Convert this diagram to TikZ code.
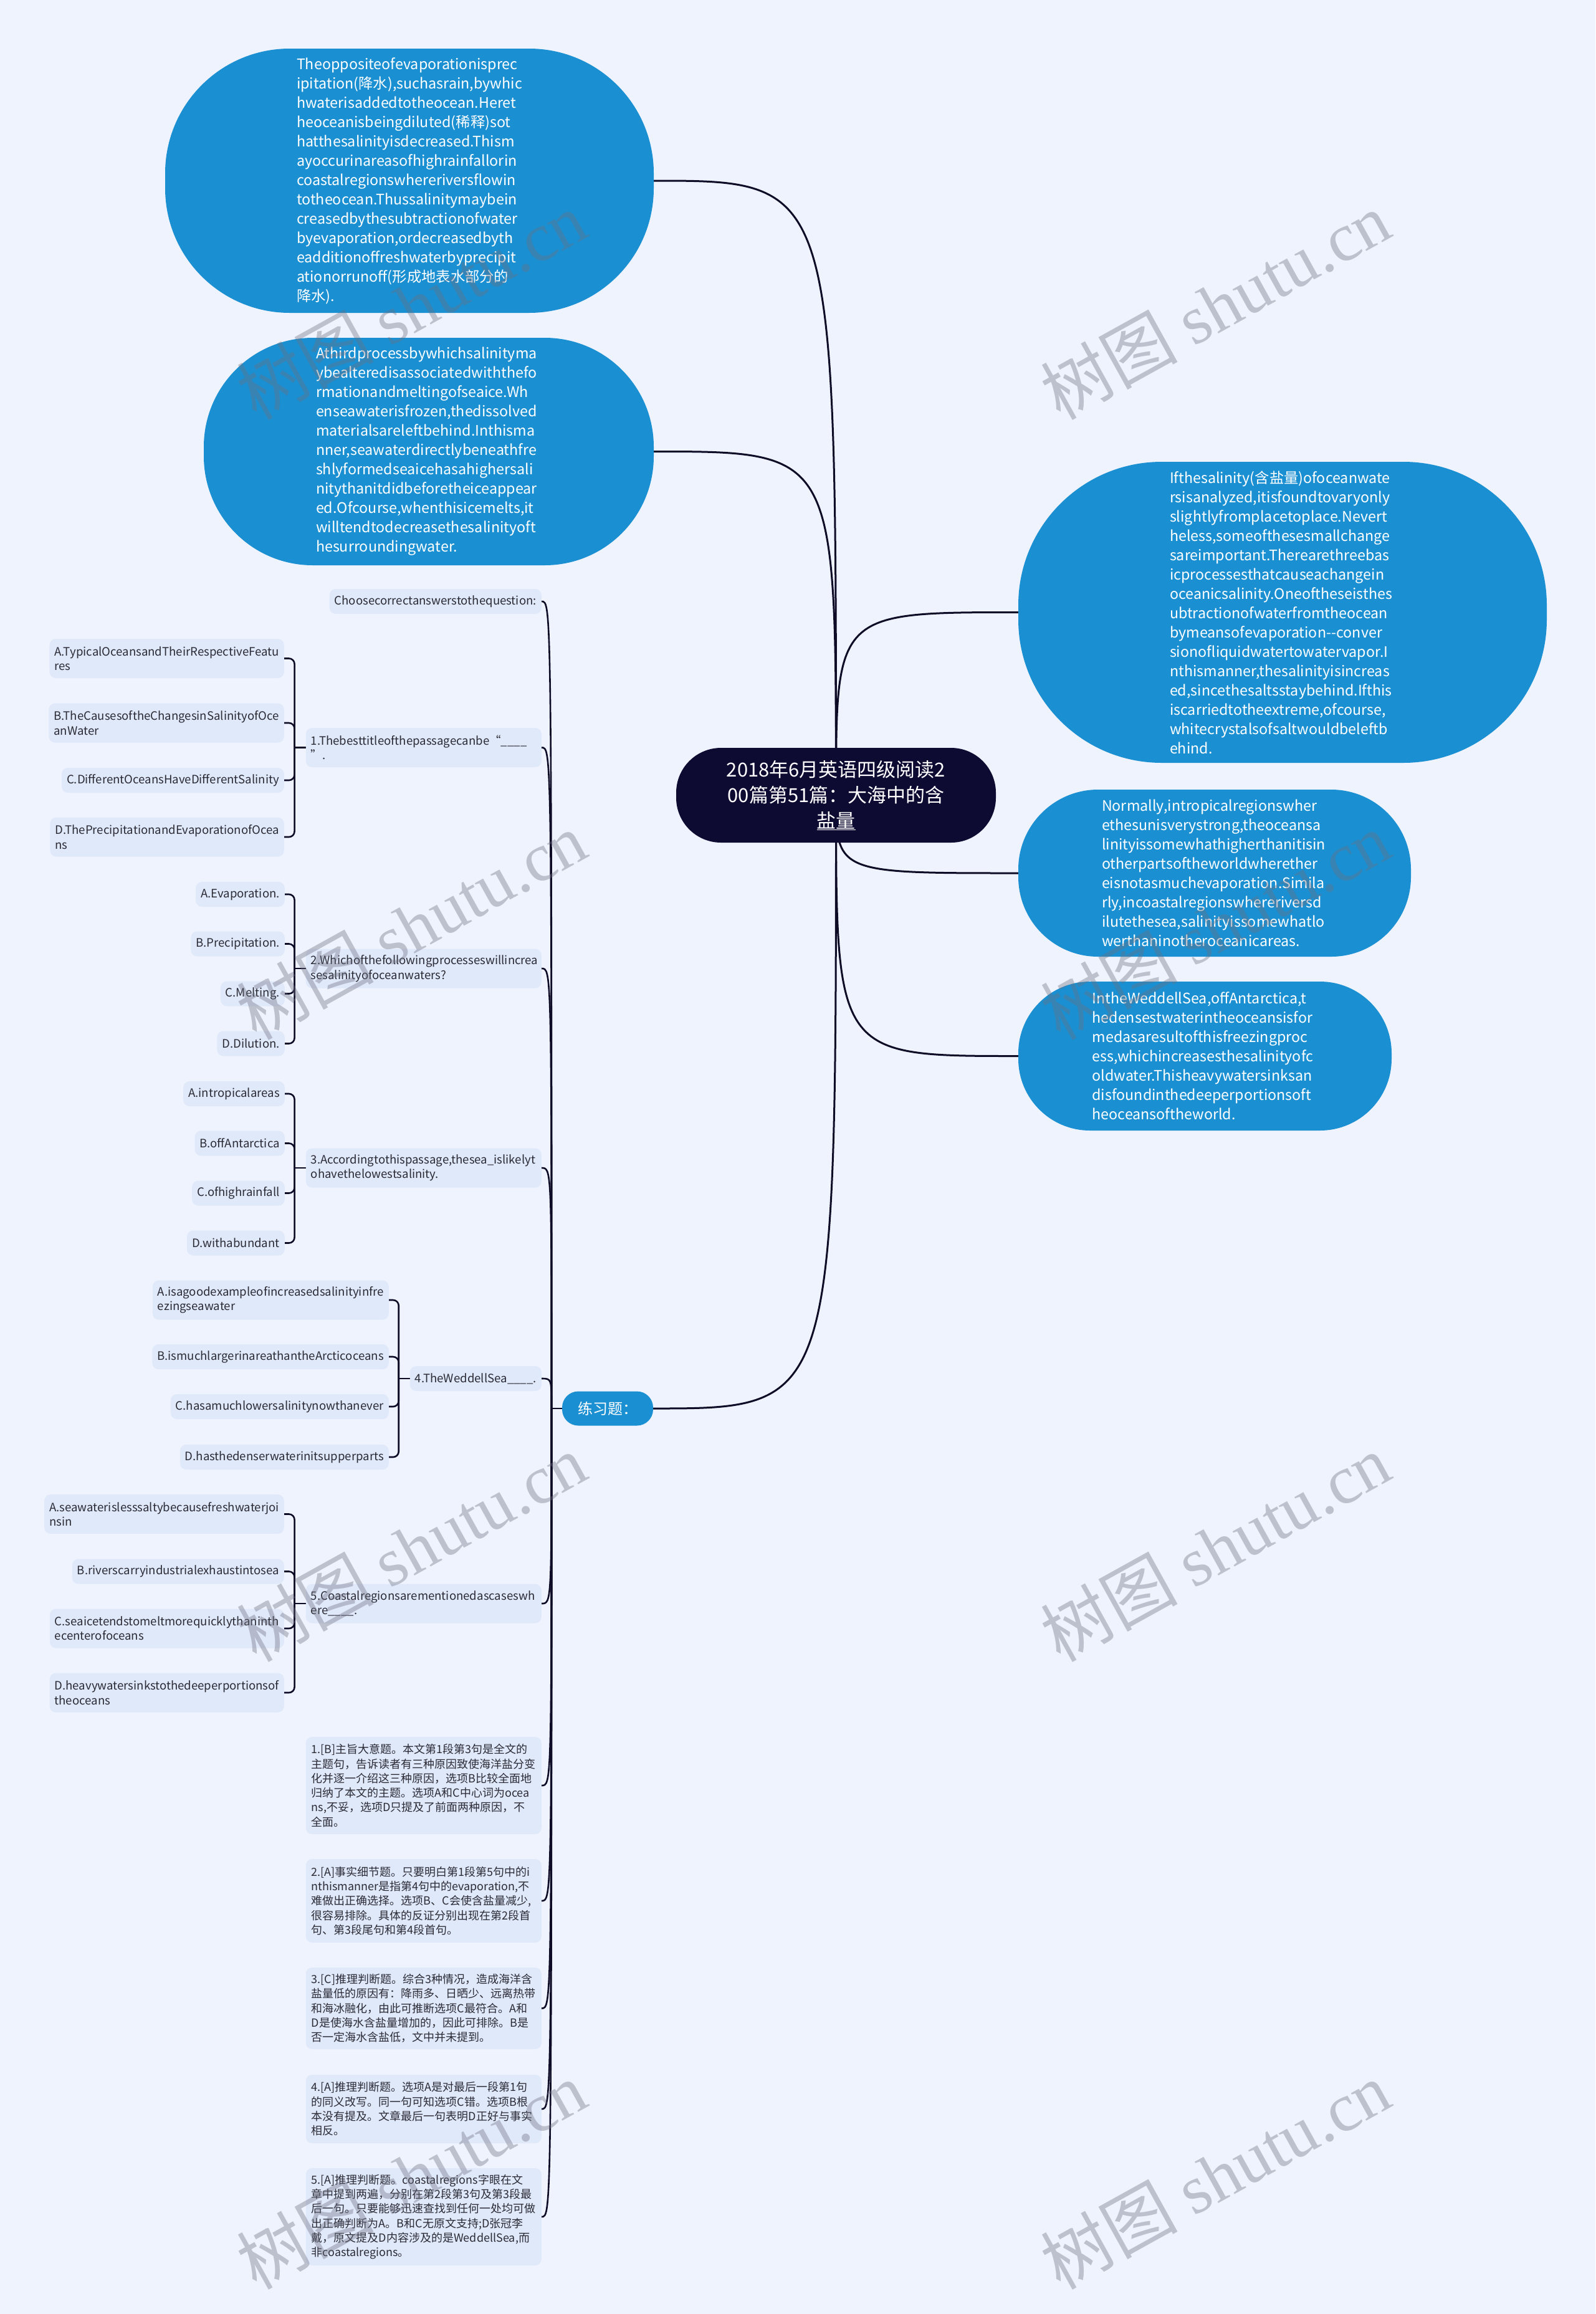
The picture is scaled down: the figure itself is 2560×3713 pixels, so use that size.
\documentclass[tikz,border=0pt]{standalone}
\usepackage{fontspec}
\setmainfont{Noto Sans CJK SC}
\newfontfamily\wmlatin{Liberation Serif}
\usetikzlibrary{backgrounds}
\definecolor{bgc}{HTML}{EEF3FE}
\definecolor{bubblec}{HTML}{1A8FD2}
\definecolor{rootc}{HTML}{0E0B33}
\definecolor{boxc}{HTML}{E0E9FA}
\definecolor{linec}{HTML}{0E0B26}
\definecolor{txtc}{HTML}{2B2B36}
\definecolor{wmc}{HTML}{6E7080}
\hyphenpenalty=10000
\exhyphenpenalty=10000
\begin{document}
\begin{tikzpicture}[x=1pt,y=-1pt,
  conn/.style={draw=linec,line width=3pt},
  brk/.style={draw=linec,line width=2.6pt},
  bubblebox/.style={rectangle,fill=bubblec,text=white,align=left,text width=362pt,inner sep=0pt,font=\fontsize{23.3}{31}\selectfont},
  rootbox/.style={rectangle,fill=rootc,text=white,align=center,inner sep=0pt,font=\fontsize{31}{41}\selectfont,minimum width=513pt,minimum height=152pt,rounded corners=72pt},
  lxbox/.style={rectangle,fill=bubblec,text=white,inner sep=0pt,font=\fontsize{24}{28}\selectfont,minimum width=146pt,minimum height=55pt,rounded corners=26pt},
  sbox/.style={rectangle,fill=boxc,text=txtc,rounded corners=10pt,align=left,inner xsep=8pt,inner ysep=0pt,font=\fontsize{18.6}{23.3}\selectfont},
  one/.style={minimum height=40pt},
  two/.style={minimum height=63pt},
  qbox/.style={sbox,text width=362pt},
  abox/.style={sbox,text width=360pt,inner xsep=9pt,font=\fontsize{18}{23.3}\selectfont},
  wm/.style={text=wmc,opacity=0.38,font=\fontsize{110}{110}\selectfont,rotate=29,inner sep=0pt}
]
\useasboundingbox (0,0) rectangle (2560,3713);

% ---------- main nodes ----------
\node[rootbox] (root) at (1341.5,1276) {2018年6月英语四级阅读2\\00篇第51篇：大海中的含\\\underline{盐量}};

\node[bubblebox,minimum width=784pt,minimum height=424pt,rounded corners=200pt] (pA) at (657,290) {Theoppositeofevaporationisprec\\ipitation(降水),suchasrain,bywhic\\hwaterisaddedtotheocean.Heret\\heoceanisbeingdiluted(稀释)sot\\hatthesalinityisdecreased.Thism\\ayoccurinareasofhighrainfallorin\\coastalregionswhereriversflowin\\totheocean.Thussalinitymaybein\\creasedbythesubtractionofwater\\byevaporation,ordecreasedbyth\\eadditionoffreshwaterbyprecipit\\ationorrunoff(形成地表水部分的\\降水).};

\node[bubblebox,minimum width=722pt,minimum height=365pt,rounded corners=175pt] (pB) at (688,724.5) {Athirdprocessbywhichsalinityma\\ybealteredisassociatedwiththefo\\rmationandmeltingofseaice.Wh\\enseawaterisfrozen,thedissolved\\materialsareleftbehind.Inthisma\\nner,seawaterdirectlybeneathfre\\shlyformedseaicehasahighersali\\nitythanitdidbeforetheiceappear\\ed.Ofcourse,whenthisicemelts,it\\willtendtodecreasethesalinityoft\\hesurroundingwater.};

\node[bubblebox,minimum width=848pt,minimum height=483pt,rounded corners=230pt] (r1) at (2058,982.5) {Ifthesalinity(含盐量)ofoceanwate\\rsisanalyzed,itisfoundtovaryonly\\slightlyfromplacetoplace.Nevert\\heless,someofthesesmallchange\\sareimportant.Therearethreebas\\icprocessesthatcauseachangein\\oceanicsalinity.Oneoftheseisthes\\ubtractionofwaterfromtheocean\\bymeansofevaporation-{}-conver\\sionofliquidwatertowatervapor.I\\nthismanner,thesalinityisincreas\\ed,sincethesaltsstaybehind.Ifthis\\iscarriedtotheextreme,ofcourse,\\whitecrystalsofsaltwouldbeleftb\\ehind.};

\node[bubblebox,minimum width=630pt,minimum height=268pt,rounded corners=128pt] (r2) at (1949,1401) {Normally,intropicalregionswher\\ethesunisverystrong,theoceansa\\linityissomewhathigherthanitisin\\otherpartsoftheworldwherether\\eisnotasmuchevaporation.Simila\\rly,incoastalregionswhereriversd\\ilutethesea,salinityissomewhatlo\\werthaninotheroceanicareas.};

\node[bubblebox,minimum width=599pt,minimum height=239pt,rounded corners=115pt] (r3) at (1933.5,1694.5) {IntheWeddellSea,offAntarctica,t\\hedensestwaterintheoceansisfor\\medasaresultofthisfreezingproc\\ess,whichincreasesthesalinityofc\\oldwater.Thisheavywatersinksan\\disfoundinthedeeperportionsoft\\heoceansoftheworld.};

\node[lxbox] (lx) at (975,2260) {练习题：};

% ---------- children of 练习题 ----------
\node[sbox,one,anchor=east] (ch) at (869,965) {Choosecorrectanswerstothequestion:};
\node[qbox,two,anchor=east] (q1) at (869,1199.5) {1.Thebesttitleofthepassagecanbe“\_\_\_\_\\”.};
\node[qbox,two,anchor=east] (q2) at (869,1554) {2.Whichofthefollowingprocesseswillincrea\\sesalinityofoceanwaters?};
\node[qbox,two,anchor=east] (q3) at (869,1874) {3.Accordingtothispassage,thesea\_islikelyt\\ohavethelowestsalinity.};
\node[sbox,one,anchor=east] (q4) at (869,2212) {4.TheWeddellSea\_\_\_\_.};
\node[qbox,two,anchor=east] (q5) at (869,2573) {5.Coastalregionsarementionedascaseswh\\ere\_\_\_\_.};

\node[abox,minimum height=156pt,anchor=east] (a1) at (869,2865) {1.[B]主旨大意题。本文第1段第3句是全文的\\主题句，告诉读者有三种原因致使海洋盐分变\\化并逐一介绍这三种原因，选项B比较全面地\\归纳了本文的主题。选项A和C中心词为ocea\\ns,不妥，选项D只提及了前面两种原因，不\\全面。};
\node[abox,minimum height=134pt,anchor=east] (a2) at (869,3050) {2.[A]事实细节题。只要明白第1段第5句中的i\\nthismanner是指第4句中的evaporation,不\\难做出正确选择。选项B、C会使含盐量减少,\\很容易排除。具体的反证分别出现在第2段首\\句、第3段尾句和第4段首句。};
\node[abox,minimum height=131pt,anchor=east] (a3) at (869,3222.5) {3.[C]推理判断题。综合3种情况，造成海洋含\\盐量低的原因有：降雨多、日晒少、远离热带\\和海冰融化，由此可推断选项C最符合。A和\\D是使海水含盐量增加的，因此可排除。B是\\否一定海水含盐低，文中并未提到。};
\node[abox,minimum height=110pt,anchor=east] (a4) at (869,3384) {4.[A]推理判断题。选项A是对最后一段第1句\\的同义改写。同一句可知选项C错。选项B根\\本没有提及。文章最后一句表明D正好与事实\\相反。};
\node[abox,minimum height=156pt,anchor=east] (a5) at (869,3557) {5.[A]推理判断题。coastalregions字眼在文\\章中提到两遍，分别在第2段第3句及第3段最\\后一句。只要能够迅速查找到任何一处均可做\\出正确判断为A。B和C无原文支持;D张冠李\\戴，原文提及D内容涉及的是WeddellSea,而\\非coastalregions。};

% ---------- options ----------
\node[sbox,two,anchor=east] (q1a) at (456,1056.5) {A.TypicalOceansandTheirRespectiveFeatu\\res};
\node[sbox,two,anchor=east] (q1b) at (456,1160) {B.TheCausesoftheChangesinSalinityofOce\\anWater};
\node[sbox,one,anchor=east] (q1c) at (456,1252) {C.DifferentOceansHaveDifferentSalinity};
\node[sbox,two,anchor=east] (q1d) at (456,1343) {D.ThePrecipitationandEvaporationofOcea\\ns};

\node[sbox,one,anchor=east] (q2a) at (457,1435) {A.Evaporation.};
\node[sbox,one,anchor=east] (q2b) at (457,1514.5) {B.Precipitation.};
\node[sbox,one,anchor=east] (q2c) at (457,1594.5) {C.Melting.};
\node[sbox,one,anchor=east] (q2d) at (457,1674.5) {D.Dilution.};

\node[sbox,one,anchor=east] (q3a) at (457,1755) {A.intropicalareas};
\node[sbox,one,anchor=east] (q3b) at (457,1834.5) {B.offAntarctica};
\node[sbox,one,anchor=east] (q3c) at (457,1914.5) {C.ofhighrainfall};
\node[sbox,one,anchor=east] (q3d) at (457,1994.5) {D.withabundant};

\node[sbox,two,anchor=east] (q4a) at (624,2086) {A.isagoodexampleofincreasedsalinityinfre\\ezingseawater};
\node[sbox,one,anchor=east] (q4b) at (624,2177) {B.ismuchlargerinareathantheArcticoceans};
\node[sbox,one,anchor=east] (q4c) at (624,2257) {C.hasamuchlowersalinitynowthanever};
\node[sbox,one,anchor=east] (q4d) at (624,2338) {D.hasthedenserwaterinitsupperparts};

\node[sbox,two,anchor=east] (q5a) at (456,2429.5) {A.seawaterislesssaltybecausefreshwaterjoi\\nsin};
\node[sbox,one,anchor=east] (q5b) at (456,2521.5) {B.riverscarryindustrialexhaustintosea};
\node[sbox,two,anchor=east] (q5c) at (456,2613) {C.seaicetendstomeltmorequicklythaninth\\ecenterofoceans};
\node[sbox,two,anchor=east] (q5d) at (456,2716) {D.heavywatersinkstothedeeperportionsof\\theoceans};

% ---------- connectors (behind) ----------
\begin{pgfonlayer}{background}
\fill[bgc] (0,0) rectangle (2560,3713);
\foreach \c in {pA,pB,r1,r2,r3,lx}
  \draw[conn] (root.center) .. controls (root.center |- \c) .. (\c);
\draw[brk] (lx.west) -- (885,2260) coordinate (sp);
\foreach \c in {ch,q1,q2,q3,q4,q5,a1,a2,a3,a4,a5}
  \draw[brk] (sp) .. controls (sp |- \c.east) .. (\c.east);
\foreach \q/\opts in {q1/{q1a,q1b,q1c,q1d},q2/{q2a,q2b,q2c,q2d},q3/{q3a,q3b,q3c,q3d},q4/{q4a,q4b,q4c,q4d},q5/{q5a,q5b,q5c,q5d}}{
  \draw[brk] (\q.west) -- ++(-18,0) coordinate (bk);
  \foreach \o in \opts
    \draw[brk,rounded corners=9pt] (bk) |- (\o.east);
}
\end{pgfonlayer}

% ---------- watermark ----------
\foreach \p in {(660,490),(1950,490),(660,1485),(1950,1485),(660,2483),(1950,2483),(660,3490),(1950,3490)}
  \node[wm] at \p {树图 {\wmlatin shutu.cn}};
\end{tikzpicture}
\end{document}
